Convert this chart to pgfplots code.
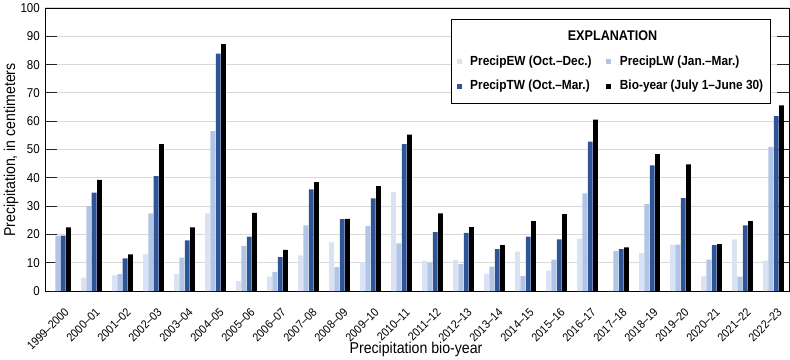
\documentclass[border=0pt]{standalone}
\usepackage{fontspec}
\setmainfont{Liberation Sans}[FakeStretch=0.9]
\usepackage{pgfplots}
\pgfplotsset{compat=1.18}
\usepackage{pgfplotstable}
\definecolor{ewc}{HTML}{D9E3F3}
\definecolor{lwc}{HTML}{B1C5E6}
\definecolor{twc}{HTML}{2F5597}
\definecolor{gridc}{HTML}{D9D9D9}

\pgfplotstableread{
idx EW LW TW Bio
0 0 19.6 19.6 22.5
1 4.7 30.0 34.8 39.3
2 5.5 6.0 11.5 12.9
3 13.0 27.4 40.6 51.9
4 6.0 11.8 17.9 22.5
5 27.4 56.5 83.9 87.2
6 3.5 15.9 19.2 27.6
7 5.1 6.8 12.0 14.5
8 12.6 23.2 35.9 38.5
9 17.2 8.4 25.4 25.5
10 9.9 22.9 32.7 37.1
11 34.9 16.8 51.9 55.3
12 10.7 10.0 20.8 27.4
13 10.9 9.5 20.5 22.6
14 6.1 8.6 14.8 16.2
15 13.9 5.3 19.2 24.7
16 7.2 11.1 18.2 27.2
17 18.5 34.5 52.8 60.6
18 0.2 14.2 14.8 15.4
19 13.4 30.8 44.4 48.4
20 16.4 16.4 32.8 44.7
21 5.2 11.1 16.2 16.6
22 18.2 5.1 23.2 24.7
23 10.7 50.9 61.8 65.6
}\datatable

\pgfplotsset{sqleg/.style={legend image code/.code={\path[##1,draw=none] (0pt,-2.5pt) rectangle (5pt,2.5pt);}}}

\begin{document}
\begin{tikzpicture}
\path[use as bounding box] (-45pt,-68pt) rectangle (745pt,291pt);
\begin{axis}[
  at={(0pt,0pt)}, anchor=south west,
  scale only axis, width=744pt, height=283pt,
  ybar=0.5pt, bar width=4.8pt,
  xmin=-0.5, xmax=23.5, ymin=0, ymax=100,
  xtick={0,1,...,23},
  xticklabels={1999–2000,2000–01,2001–02,2002–03,2003–04,2004–05,2005–06,2006–07,2007–08,2008–09,2009–10,2010–11,2011–12,2012–13,2013–14,2014–15,2015–16,2016–17,2017–18,2018–19,2019–20,2020–21,2021–22,2022–23},
  ytick={0,10,...,100},
  ymajorgrids, major grid style={gridc, line width=1pt},
  xtick style={draw=none},
  ytick style={black!85, line width=0.8pt},
  major tick length=12pt,
  axis line style={black, line width=0.8pt},
  tick label style={font=\fontsize{12.8}{14}\selectfont},
  /pgf/number format/assume math mode=true,
  y tick label style={xshift=-1.7pt},
  x tick label style={font=\fontsize{11.8}{13}\selectfont, inner sep=1pt, xshift=7pt, yshift=-6.5pt, rotate=45, anchor=east},
  xlabel={Precipitation bio-year},
  ylabel={Precipitation, in centimeters},
  label style={font=\fontsize{15.7}{17}\selectfont},
  xlabel style={at={(axis description cs:0.4987,-0.206)}, anchor=center},
  ylabel style={at={(axis description cs:-0.0457,0.498)}, anchor=center},
  legend columns=2,
  legend cell align=left,
  legend style={at={(axis description cs:0.5534,0.7673)}, anchor=west, draw=none, fill=none,
    inner sep=0pt, outer sep=0pt, font=\bfseries\fontsize{13.2}{15}\selectfont,
    column sep=5.5pt, row sep=6pt,
    /tikz/every even column/.append style={column sep=11.7pt},
    nodes={inner sep=3pt, text height=9.5pt, text depth=2.8pt}},
]
\addplot[fill=ewc, draw=none, sqleg] table[x=idx, y=EW] {\datatable};
\addlegendentry{PrecipEW (Oct.–Dec.)}
\addplot[fill=lwc, draw=none, sqleg] table[x=idx, y=LW] {\datatable};
\addlegendentry{PrecipLW (Jan.–Mar.)}
\addplot[fill=twc, draw=none, sqleg] table[x=idx, y=TW] {\datatable};
\addlegendentry{PrecipTW (Oct.–Mar.)}
\addplot[fill=black, draw=none, sqleg] table[x=idx, y=Bio] {\datatable};
\addlegendentry{Bio-year (July 1–June 30)}
\draw[black, line width=0.9pt, fill=white] (axis description cs:0.5457,0.9611) rectangle (axis description cs:0.9745,0.6643);
\node[font=\bfseries\fontsize{14}{16}\selectfont] at (axis description cs:0.7628,0.901) {EXPLANATION};
\end{axis}
\end{tikzpicture}
\end{document}
